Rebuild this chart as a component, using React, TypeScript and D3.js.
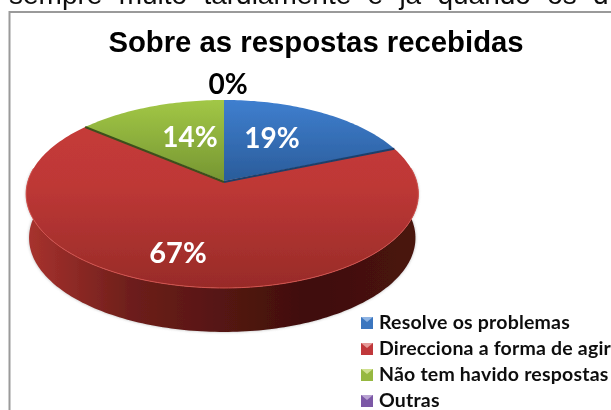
import React from "react";
import * as d3 from "d3";

const categories = ["Resolve os problemas", "Direcciona a forma de agir", "Não tem havido respostas", "Outras"];
const values = [19, 67, 14, 0];
const labels = ["19%", "67%", "14%", "0%"];
const colors = ["#3a76bf", "#c0393a", "#96b83f", "#7b58a6"];
const swatchLight = ["#8fb4e3", "#e59a98", "#cfe08f", "#b9a3d3"];
const title = "Sobre as respostas recebidas";
const bodyText = "sempre muito tardiamente e já quando os d";

const W = 611, H = 410;
const cx = 224, cy = 181, B = 92.2, K = 0.138, depth = 44;

function project(angle: number): [number, number] {
  const u = Math.sin(angle), v = -Math.cos(angle);
  const w = 1 - K * v;
  const A = u > 0 ? 192.5 : 196;
  return [cx + (A * u) / w, cy + (B * v) / w];
}
function arcPts(a0: number, a1: number, dy = 0, sx = 1): [number, number][] {
  const n = Math.max(2, Math.ceil(Math.abs(a1 - a0) / 0.02));
  return d3.range(n + 1).map((i) => {
    const [x, y] = project(a0 + ((a1 - a0) * i) / n);
    return [cx + (x - cx) * sx, y + dy] as [number, number];
  });
}
const line = d3.line();

export default function App() {
  const arcs = d3.pie<number>().sort(null)(values);
  const red = arcs[1];
  const sideStart = Math.PI / 2 - 0.14;
  const sideEnd = (3 * Math.PI) / 2 + 0.14;
  const front = arcPts(sideStart, sideEnd);
  const frontBottom = arcPts(sideEnd, sideStart, depth, 0.985);
  const sidePath = line([...front, ...frontBottom]) + "Z";
  const legendY = d3.scalePoint<string>().domain(categories).range([323, 401]);
  return (
    <svg width={W} height={H} viewBox={`0 0 ${W} ${H}`} style={{ position: "absolute", left: 0, top: 0, background: "#fff" }}>
      <defs>
        <linearGradient id="gBlue" x1="0" y1="0" x2="0" y2="1">
          <stop offset="0" stopColor="#3f7fcf" /><stop offset="1" stopColor="#2a5c9a" />
        </linearGradient>
        <linearGradient id="gGreen" x1="0" y1="0" x2="0" y2="1">
          <stop offset="0" stopColor="#a2c746" /><stop offset="1" stopColor="#769632" />
        </linearGradient>
        <linearGradient id="gRed" gradientUnits="userSpaceOnUse" x1="0" y1="100" x2="0" y2="288">
          <stop offset="0" stopColor="#c83c3a" /><stop offset="0.45" stopColor="#be3836" /><stop offset="1" stopColor="#982b28" />
        </linearGradient>
        <linearGradient id="gSide" gradientUnits="userSpaceOnUse" x1="27" y1="0" x2="418" y2="0">
          <stop offset="0" stopColor="#a8322e" /><stop offset="0.26" stopColor="#6e1f1b" />
          <stop offset="0.5" stopColor="#551512" /><stop offset="0.72" stopColor="#3f0f0d" /><stop offset="1" stopColor="#4a1310" />
        </linearGradient>
        <filter id="soft" x="-5%" y="-5%" width="110%" height="110%"><feGaussianBlur stdDeviation="0.6" /></filter>
        <filter id="shadow" x="-5%" y="-5%" width="110%" height="110%"><feGaussianBlur stdDeviation="1.4" /></filter>
        <filter id="softT" x="-5%" y="-20%" width="110%" height="140%"><feGaussianBlur stdDeviation="0.45" /></filter>
      </defs>

      <text x={9} y={4} fontFamily="'Liberation Sans', Arial, sans-serif" fontSize={28} wordSpacing={8.5} fill="#111" filter="url(#softT)">{bodyText}</text>
      <rect x={9.5} y={12} width={640} height={440} fill="#fff" stroke="#9a9a9a" strokeWidth={2} />

      <text x={316} y={52} textAnchor="middle" fontFamily="'Liberation Sans', Arial, sans-serif" fontWeight={700} fontSize={29.3} fill="#000" filter="url(#softT)">{title}</text>

      <path d={sidePath} fill="#888" opacity={0.6} filter="url(#shadow)" />
      <g filter="url(#soft)">
        <path d={sidePath} fill="url(#gSide)" />
        <path d={line(arcPts(red.startAngle, red.endAngle))! + `L${cx},${cy}Z`} fill="url(#gRed)" />
        <path d={line(arcPts(arcs[0].startAngle, arcs[0].endAngle))! + `L${cx},${cy}Z`} fill="url(#gBlue)" />
        <path d={line(arcPts(arcs[2].startAngle, arcs[2].endAngle))! + `L${cx},${cy}Z`} fill="url(#gGreen)" />
        <path d={line([project(arcs[0].endAngle), [cx, cy + 1]])!} fill="none" stroke="#1d3f6b" strokeWidth={2} />
        <path d={line([[cx, cy + 1], project(arcs[2].startAngle)])!} fill="none" stroke="#3d4f1c" strokeWidth={2} />
        <path d={line(front)!} fill="none" stroke="#d2524e" strokeWidth={1} />
      </g>

      <g fontFamily="Lato, sans-serif" fontWeight={700} fontSize={28} fill="#fff" textAnchor="middle" filter="url(#softT)">
        <text x={272} y={148}>{labels[0]}</text>
        <text x={178} y={263} fontSize={29}>{labels[1]}</text>
        <text x={190} y={147}>{labels[2]}</text>
        <text x={228} y={94} fill="#000">{labels[3]}</text>
      </g>

      <g fontFamily="Lato, sans-serif" fontWeight={700} fontSize={19.5} letterSpacing={0.2} fill="#111" filter="url(#softT)">
        {categories.map((c, i) => (
          <g key={c}>
            <rect x={361} y={legendY(c)! - 6} width={12} height={12} fill={colors[i]} />
            <path d={`M361,${legendY(c)! - 6}h12l-6,5z`} fill={swatchLight[i]} />
            <text x={379} y={legendY(c)! + 6}>{c}</text>
          </g>
        ))}
      </g>
    </svg>
  );
}
